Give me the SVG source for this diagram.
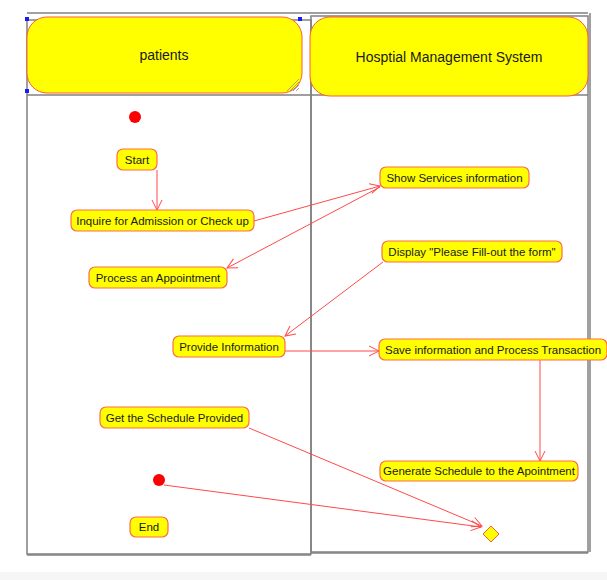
<svg xmlns="http://www.w3.org/2000/svg" width="607" height="580" viewBox="0 0 607 580">
  <style>
    .lane { fill: none; stroke: #808080; stroke-width: 1.5; }
    .shadow { fill: none; stroke: #a0a0a0; stroke-width: 2; }
    .head { fill: #ffff00; stroke: #ff5a3c; stroke-width: 1; }
    .act { fill: #ffff00; stroke: #ff6a4a; stroke-width: 1.2; }
    .dot { fill: #ff0000; }
    .lbl { font-family: "Liberation Sans", Arial, sans-serif; font-size: 11.5px; fill: #1a1a1a; text-anchor: middle; dominant-baseline: central; }
    .hlbl { font-family: "Liberation Sans", Arial, sans-serif; font-size: 14px; fill: #1a1a1a; text-anchor: middle; dominant-baseline: central; }
    .flow { fill: none; stroke: #ff4a4a; stroke-width: 1; }
  </style>
  <defs>
    <marker id="open" viewBox="0 0 12 12" refX="11" refY="6" markerWidth="12" markerHeight="12" markerUnits="userSpaceOnUse" orient="auto">
      <path d="M1,1 L11,6 L1,11" fill="none" stroke="#ff4a4a" stroke-width="1"/>
    </marker>
  </defs>

  <rect width="607" height="580" fill="#ffffff"/>
  <rect x="0" y="572" width="607" height="8" fill="#f6f6f6"/>

  <!-- swimlane frames -->
  <g id="lanes">
    <line x1="27" y1="13" x2="588" y2="13" class="shadow"/>
    <line x1="590" y1="13" x2="590" y2="552" class="shadow"/>
    <line x1="27" y1="555" x2="311" y2="555" class="shadow"/>
    <line x1="311" y1="553" x2="588" y2="553" class="shadow"/>
    <rect x="27" y="20" width="284" height="534" class="lane"/>
    <rect x="311" y="16" width="277" height="536" class="lane"/>
    <line x1="27" y1="95" x2="588" y2="95" class="lane"/>
  </g>

  <g id="lane-patients">
    <rect x="27" y="17" width="275" height="76" rx="20" class="head"/>
    <text x="164" y="55" class="hlbl">patients</text>
    <path d="M290,91 L299,82 M293,91 L299,85 M296,91 L299,88 M287,91 L299,79" stroke="#909090" stroke-width="0.8"/>
    <rect x="25" y="17" width="4" height="4" fill="#1a1aff"/>
    <rect x="298" y="17" width="4" height="4" fill="#1a1aff"/>
    <rect x="25" y="89" width="4" height="4" fill="#1a1aff"/>
  </g>

  <g id="lane-system">
    <rect x="310" y="17" width="278" height="79" rx="20" class="head"/>
    <text x="449" y="57" class="hlbl">Hosptial Management System</text>
  </g>

  <!-- connectors -->
  <g id="connectors">
    <line x1="157" y1="170" x2="157" y2="210" class="flow" marker-end="url(#open)"/>
    <line x1="254" y1="221" x2="380" y2="186" class="flow" marker-end="url(#open)"/>
    <line x1="380" y1="187" x2="227" y2="268" class="flow" marker-end="url(#open)"/>
    <line x1="383" y1="262" x2="285" y2="336" class="flow" marker-end="url(#open)"/>
    <line x1="285" y1="351" x2="379" y2="351" class="flow" marker-end="url(#open)"/>
    <line x1="540" y1="360" x2="540" y2="461" class="flow" marker-end="url(#open)"/>
    <line x1="249" y1="428" x2="482" y2="526" class="flow" marker-end="url(#open)"/>
    <line x1="164" y1="485" x2="481" y2="527" class="flow" marker-end="url(#open)"/>
  </g>

  <g id="initial">
    <circle cx="135" cy="117" r="6" class="dot"/>
  </g>

  <g id="start">
    <rect x="117" y="149" width="40" height="21" rx="6" class="act"/>
    <text x="137" y="159.5" class="lbl">Start</text>
  </g>

  <g id="inquire">
    <rect x="71" y="210" width="183" height="21" rx="6" class="act"/>
    <text x="162.5" y="220.5" class="lbl">Inquire for Admission or Check up</text>
  </g>

  <g id="process-appointment">
    <rect x="89" y="267" width="138" height="21" rx="6" class="act"/>
    <text x="158" y="277.5" class="lbl">Process an Appointment</text>
  </g>

  <g id="show-services">
    <rect x="380" y="167" width="149" height="21" rx="6" class="act"/>
    <text x="454.5" y="177.5" class="lbl">Show Services information</text>
  </g>

  <g id="display-form">
    <rect x="382" y="241" width="180" height="21" rx="6" class="act"/>
    <text x="472" y="251.5" class="lbl">Display "Please Fill-out the form"</text>
  </g>

  <g id="provide-info">
    <rect x="173" y="336" width="112" height="21" rx="6" class="act"/>
    <text x="229" y="346.5" class="lbl">Provide Information</text>
  </g>

  <g id="save-info">
    <rect x="379" y="339" width="228" height="21" rx="6" class="act"/>
    <text x="493" y="349.5" class="lbl">Save information and Process Transaction</text>
  </g>

  <g id="get-schedule">
    <rect x="100" y="407" width="149" height="21" rx="6" class="act"/>
    <text x="174.5" y="417.5" class="lbl">Get the Schedule Provided</text>
  </g>

  <g id="generate-schedule">
    <rect x="380" y="461" width="198" height="20" rx="6" class="act"/>
    <text x="479" y="471" class="lbl">Generate Schedule to the Apointment</text>
  </g>

  <g id="final-dot">
    <circle cx="159" cy="480" r="6" class="dot"/>
  </g>

  <g id="end">
    <rect x="130" y="517" width="38" height="20" rx="6" class="act"/>
    <text x="149" y="527" class="lbl">End</text>
  </g>

  <g id="merge">
    <path d="M491,526 L499,534 L491,542 L483,534 Z" fill="#ffff00" stroke="#ff5a3c" stroke-width="1"/>
  </g>
</svg>
